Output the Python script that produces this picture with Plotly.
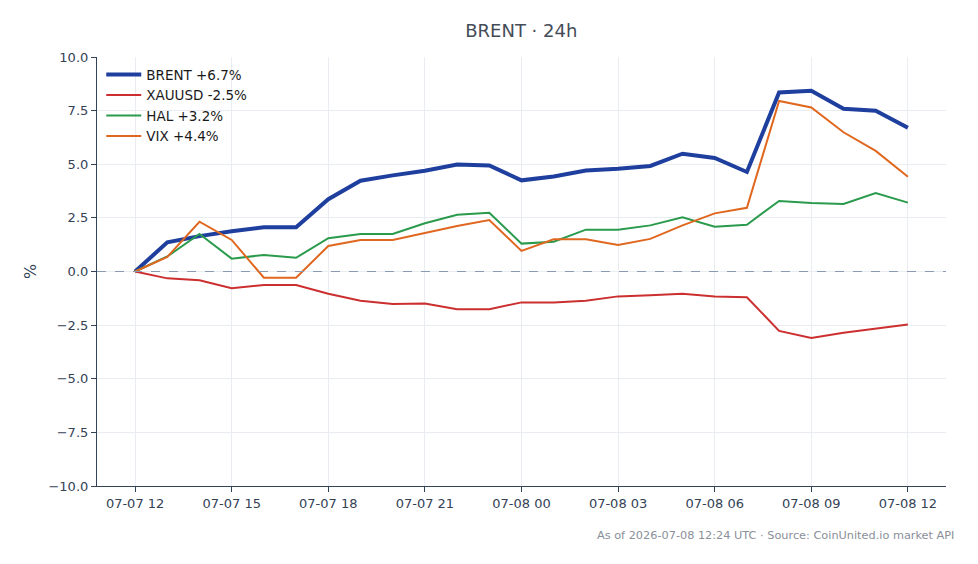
import plotly.graph_objects as go
import pandas as pd

times = pd.date_range("2026-07-07 12:00", "2026-07-08 12:00", freq="h")

brent = [0, 1.36, 1.65, 1.88, 2.06, 2.06, 3.37, 4.23, 4.48, 4.7, 4.99, 4.94, 4.25, 4.43,
         4.71, 4.79, 4.92, 5.49, 5.29, 4.64, 8.35, 8.43, 7.59, 7.5, 6.7]
xauusd = [0, -0.32, -0.41, -0.78, -0.63, -0.63, -1.04, -1.36, -1.52, -1.49, -1.76, -1.76,
          -1.44, -1.44, -1.36, -1.16, -1.11, -1.04, -1.16, -1.2, -2.77, -3.1, -2.86, -2.66, -2.47]
hal = [0, 0.7, 1.75, 0.6, 0.77, 0.64, 1.55, 1.75, 1.75, 2.25, 2.65, 2.74, 1.3, 1.39,
       1.95, 1.95, 2.15, 2.53, 2.09, 2.18, 3.29, 3.19, 3.15, 3.66, 3.21]
vix = [0, 0.68, 2.32, 1.47, -0.29, -0.29, 1.19, 1.47, 1.47, 1.81, 2.12, 2.4, 0.96, 1.5,
       1.5, 1.24, 1.52, 2.15, 2.71, 2.97, 7.95, 7.65, 6.49, 5.62, 4.42]

names = ["BRENT +6.7%", "XAUUSD -2.5%", "HAL +3.2%", "VIX +4.4%"]
colors = ["#1f3f9e", "#cc2f2f", "#2a9a4c", "#e0671f"]
widths = [4, 2, 2, 2]
series = [brent, xauusd, hal, vix]

fig = go.Figure()
for name, ys, c, w in zip(names, series, colors, widths):
    fig.add_trace(go.Scatter(x=times, y=ys, mode="lines", name=name,
                             line=dict(color=c, width=w)))

fig.add_hline(y=0, line=dict(color="#8a9ab0", width=1, dash="dash"))

axis_col = "#344256"
fig.update_layout(
    width=978, height=564,
    margin=dict(l=97, r=32, t=57, b=78),
    paper_bgcolor="white", plot_bgcolor="white",
    font=dict(family="DejaVu Sans", size=13, color=axis_col),
    title=dict(text="BRENT · 24h", x=0.533, xanchor="center", y=0.945, yanchor="middle",
               font=dict(size=18, color="#444c58")),
    showlegend=True,
    legend=dict(x=0.005, y=0.995, xanchor="left", yanchor="top",
                bgcolor="rgba(255,255,255,0)", font=dict(size=13.5, color="#1a1a1a"),
                itemwidth=35, tracegroupgap=0),
    xaxis=dict(range=[pd.Timestamp("2026-07-07 10:49"), pd.Timestamp("2026-07-08 13:11")],
               tickformat="%m-%d %H", dtick=3 * 3600 * 1000,
               tick0=pd.Timestamp("2026-07-07 12:00"),
               showgrid=True, gridcolor="#e9ecf0", gridwidth=1,
               showline=True, linecolor=axis_col, linewidth=1.2,
               ticks="outside", ticklen=5, tickcolor=axis_col, zeroline=False),
    yaxis=dict(range=[-10, 10], dtick=2.5, tickformat=".1f",
               showgrid=True, gridcolor="#e9ecf0", gridwidth=1,
               showline=True, linecolor=axis_col, linewidth=1.2,
               ticks="outside", ticklen=5, tickcolor=axis_col, zeroline=False,
               title=dict(text="%", standoff=7)),
)

fig.add_annotation(text="As of 2026-07-08 12:24 UTC · Source: CoinUnited.io market API",
                   xref="paper", yref="paper", x=1.0115, y=-0.115, xanchor="right",
                   yanchor="middle", showarrow=False,
                   font=dict(size=11.3, color="#8a8f98"))

fig.write_html("out.html")
